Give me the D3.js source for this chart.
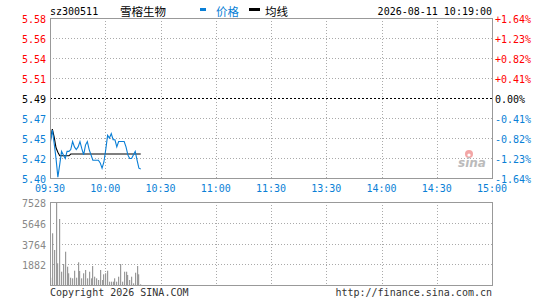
<!DOCTYPE html>
<html>
<head>
<meta charset="utf-8">
<script src="https://cdn.jsdelivr.net/npm/d3@7"></script>
<style>
  body { margin: 0; background: #fff; }
  svg text { font-family: "DejaVu Sans Mono", monospace; font-size: 10px; }
</style>
</head>
<body>
<div id="chart"></div>
<script>
// Stock info
const code = "sz300511";
const stockName = "雪榕生物";
const stamp = "2026-08-11 10:19:00";
const prevClose = 5.49;

// Axis ticks
const priceTicks = ["5.58", "5.56", "5.54", "5.51", "5.49", "5.47", "5.45", "5.42", "5.40"];
const pctTicks = ["+1.64%", "+1.23%", "+0.82%", "+0.41%", "0.00%", "-0.41%", "-0.82%", "-1.23%", "-1.64%"];
const timeTicks = ["09:30", "10:00", "10:30", "11:00", "11:30", "13:30", "14:00", "14:30", "15:00"];
const volTicks = [7528, 5646, 3764, 1882];

// Minute data from 09:30 to 10:19
const prices = [5.441, 5.454, 5.439, 5.422, 5.401, 5.415, 5.430, 5.426, 5.422, 5.430,
                5.430, 5.432, 5.441, 5.435, 5.432, 5.435, 5.441, 5.433, 5.426, 5.437,
                5.441, 5.432, 5.426, 5.420, 5.420, 5.420, 5.420, 5.417, 5.411, 5.418,
                5.432, 5.448, 5.445, 5.450, 5.443, 5.443, 5.435, 5.441, 5.441, 5.441,
                5.441, 5.435, 5.426, 5.422, 5.422, 5.426, 5.430, 5.420, 5.411, 5.410];
const avgPrices = [5.443, 5.455, 5.446, 5.434, 5.429, 5.425, 5.425, 5.425, 5.425, 5.425,
                   5.425, 5.427, 5.427, 5.427, 5.427, 5.427, 5.427, 5.427, 5.427, 5.427,
                   5.427, 5.427, 5.427, 5.427, 5.427, 5.427, 5.427, 5.427, 5.427, 5.427,
                   5.427, 5.427, 5.427, 5.427, 5.427, 5.427, 5.427, 5.427, 5.427, 5.427,
                   5.427, 5.427, 5.427, 5.427, 5.427, 5.427, 5.427, 5.427, 5.427, 5.427];
const volumes = [660, 4690, 3175, 7528, 1968, 5986, 1206, 1905, 3020, 1660,
                 1061, 662, 605, 1297, 662, 2059, 1270, 605, 1061, 1360,
                 605, 1206, 605, 1723, 753, 605, 453, 1360, 453, 970,
                 1061, 1297, 300, 300, 300, 605, 300, 753, 1905, 300,
                 1206, 1206, 907, 453, 753, 151, 1115, 1723, 970, 60];

const W = 545, H = 300;
const pLeft = 50, pRight = 492;
const pTop = 18, pBottom = 178;
const vTop = 202, vBottom = 285;
const blue = "#0a7fd6", red = "#ff0000", grid = "#aaaaaa", frame = "#999999";

const svg = d3.select("#chart").append("svg")
    .attr("width", W)
    .attr("height", H);

// Scales (240 trading minutes)
const x = d3.scaleLinear().domain([0, 240]).range([pLeft, pRight]);
const y = d3.scaleLinear().domain([5.40, 5.58]).range([pBottom, pTop]);
const yRow = d3.scaleLinear().domain([0, priceTicks.length - 1]).range([pTop, pBottom]);
const yVol = d3.scaleLinear().domain([0, 7528]).range([vBottom, vTop]);

// Header
svg.append("text").attr("x", 50).attr("y", 15).text(code);
svg.append("text").attr("x", 120).attr("y", 16)
    .style("font-family", "'Noto Sans CJK SC', sans-serif")
    .style("font-size", "11.5px")
    .text(stockName);

const legend = [
    { label: "价格", color: blue, x: 200, w: 6 },
    { label: "均线", color: "#000", x: 249, w: 11 }
];
legend.forEach(d => {
    svg.append("rect").attr("x", d.x).attr("y", 8).attr("width", d.w).attr("height", 3).attr("fill", d.color);
    svg.append("text").attr("x", d.x + 16).attr("y", 16)
        .style("font-family", "'Noto Sans CJK SC', sans-serif")
        .style("font-size", "11.5px")
        .style("fill", d.color)
        .text(d.label);
});

svg.append("text").attr("x", pRight).attr("y", 15)
    .style("text-anchor", "end")
    .text(stamp);

// Vertical grid lines
const timeIdx = d3.range(timeTicks.length).map(i => i * 30);
[[pTop, pBottom], [vTop, vBottom]].forEach(([a, b]) => {
    svg.append("g").selectAll("line")
        .data(timeIdx.slice(1, -1))
        .enter().append("line")
        .attr("x1", d => Math.round(x(d)) + 0.5).attr("x2", d => Math.round(x(d)) + 0.5)
        .attr("y1", a).attr("y2", b)
        .attr("stroke", grid).attr("stroke-dasharray", "1,2");
});

// Horizontal price grid
priceTicks.forEach((t, i) => {
    const yy = Math.round(yRow(i)) + 0.5;
    if (i > 0 && i < priceTicks.length - 1) {
        svg.append("line")
            .attr("x1", pLeft).attr("x2", pRight)
            .attr("y1", yy).attr("y2", yy)
            .attr("stroke", i === 4 ? "#000" : grid)
            .attr("stroke-dasharray", i === 4 ? "2,2" : "1,2");
    }
    const c = i < 4 ? red : (i === 4 ? "#000" : blue);
    svg.append("text").attr("x", 46).attr("y", yy + 4)
        .style("text-anchor", "end").style("fill", c).text(t);
    svg.append("text").attr("x", 495).attr("y", yy + 4)
        .style("fill", c).text(pctTicks[i]);
});

// Volume grid
volTicks.forEach(v => {
    const yy = Math.round(yVol(v)) + 0.5;
    if (v !== 7528) {
        svg.append("line")
            .attr("x1", pLeft).attr("x2", pRight)
            .attr("y1", yy).attr("y2", yy)
            .attr("stroke", grid).attr("stroke-dasharray", "1,2");
    }
    svg.append("text").attr("x", 46).attr("y", yy + 4)
        .style("text-anchor", "end").style("fill", "#888").text(v);
});

// Time labels
timeTicks.forEach((t, i) => {
    svg.append("text").attr("x", x(timeIdx[i])).attr("y", 192)
        .style("text-anchor", "middle").style("fill", blue).text(t);
});

// Sina watermark
const wm = svg.append("g").attr("transform", "translate(458,150)");
wm.append("circle").attr("cx", 11).attr("cy", 4).attr("r", 4).attr("fill", "#f3a6a6");
wm.append("circle").attr("cx", 11).attr("cy", 5).attr("r", 1.6).attr("fill", "#fff");
wm.append("text").attr("x", 0).attr("y", 17)
    .style("font-family", "'DejaVu Sans', sans-serif")
    .style("font-size", "12px").style("font-weight", "bold").style("font-style", "italic")
    .style("fill", "#bbbbbb").text("sina");

// Volume bars
svg.append("g").selectAll("rect")
    .data(volumes)
    .enter().append("rect")
    .attr("x", (d, i) => Math.round(x(i)))
    .attr("y", d => yVol(d))
    .attr("width", 1.2)
    .attr("height", d => vBottom - yVol(d))
    .attr("fill", "#999");

// Price and average lines
const line = d3.line().x((d, i) => x(i) + 0.5).y(d => y(d));
svg.append("path").datum(avgPrices).attr("d", line)
    .attr("fill", "none").attr("stroke", "#000").attr("stroke-width", 1.1);
svg.append("path").datum(prices).attr("d", line)
    .attr("fill", "none").attr("stroke", blue).attr("stroke-width", 1.1);

// Frames
svg.append("rect").attr("x", pLeft + 0.5).attr("y", pTop + 0.5)
    .attr("width", pRight - pLeft).attr("height", pBottom - pTop)
    .attr("fill", "none").attr("stroke", frame).attr("stroke-width", 1);
svg.append("rect").attr("x", pLeft + 0.5).attr("y", vTop + 0.5)
    .attr("width", pRight - pLeft).attr("height", vBottom - vTop)
    .attr("fill", "none").attr("stroke", frame).attr("stroke-width", 1);

// Footer
svg.append("text").attr("x", 50).attr("y", 296).style("fill", "#333").text("Copyright 2026 SINA.COM");
svg.append("text").attr("x", pRight).attr("y", 296).style("text-anchor", "end").style("fill", "#333").text("http://finance.sina.com.cn");
</script>
</body>
</html>
